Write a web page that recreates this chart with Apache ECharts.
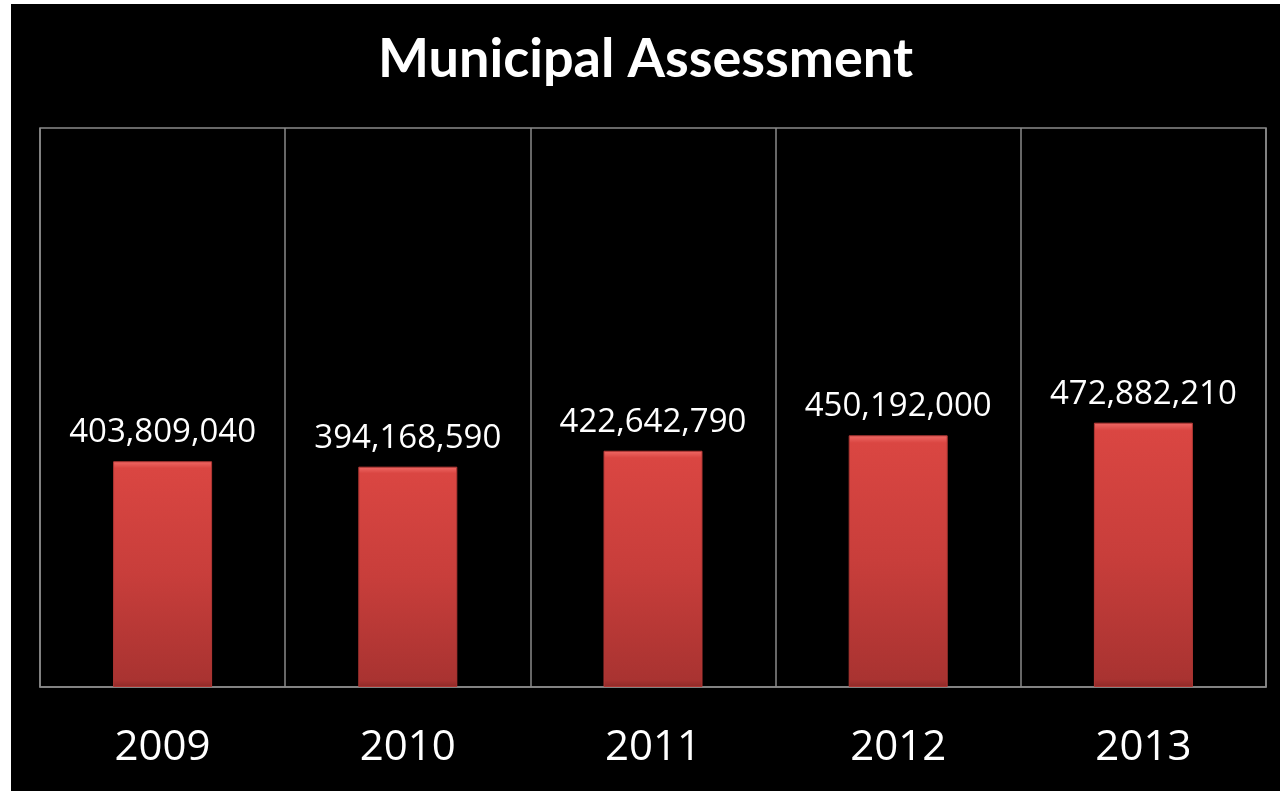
<!DOCTYPE html>
<html>
<head>
<meta charset="utf-8">
<script src="https://cdn.jsdelivr.net/npm/echarts@6/dist/echarts.min.js"></script>
<style>
html,body{margin:0;padding:0;background:#ffffff;width:1280px;height:791px;overflow:hidden;}
#chart{position:absolute;left:11px;top:4px;width:1269px;height:787px;background:#000;}
</style>
</head>
<body>
<div id="chart"></div>
<script>
const categories = ['2009', '2010', '2011', '2012', '2013'];
const assessmentValues = [403809040, 394168590, 422642790, 450192000, 472882210];
const titleText = 'Municipal Assessment';

const chart = echarts.init(document.getElementById('chart'), null, {renderer: 'canvas'});
const fmt = v => v.toLocaleString('en-US');

chart.setOption({
  backgroundColor: '#000000',
  animation: false,
  title: {
    text: titleText,
    left: 'center',
    top: 24,
    textStyle: {
      color: '#ffffff',
      fontFamily: 'Lato',
      fontWeight: 'bold',
      fontSize: 54
    }
  },
  grid: {
    left: 29,
    right: 14,
    top: 124,
    bottom: 104,
    show: true,
    borderColor: '#8a8a8a',
    borderWidth: 1.5,
    backgroundColor: 'transparent'
  },
  xAxis: {
    type: 'category',
    data: categories,
    boundaryGap: true,
    axisLine: {show: true, lineStyle: {color: '#8a8a8a', width: 1.5}},
    axisTick: {show: false},
    splitLine: {show: true, lineStyle: {color: '#8a8a8a', width: 1.5}},
    axisLabel: {
      color: '#ffffff',
      fontFamily: 'Open Sans',
      fontSize: 42,
      margin: 40
    }
  },
  yAxis: {
    type: 'value',
    min: 0,
    max: 1000000000,
    show: false,
    splitLine: {show: false}
  },
  series: [{
    type: 'bar',
    data: assessmentValues,
    barWidth: 99,
    itemStyle: {
      color: new echarts.graphic.LinearGradient(0, 0, 0, 1, [
        {offset: 0, color: '#f06a66'},
        {offset: 0.03, color: '#da4642'},
        {offset: 0.5, color: '#c83e3b'},
        {offset: 0.97, color: '#a93331'},
        {offset: 1, color: '#8f2a28'}
      ]),
      borderColor: '#b03734',
      borderWidth: 1
    },
    label: {
      show: true,
      position: 'top',
      distance: 12,
      color: '#ffffff',
      fontFamily: 'Open Sans',
      fontSize: 33,
      formatter: p => fmt(p.value)
    }
  }]
});
</script>
</body>
</html>
